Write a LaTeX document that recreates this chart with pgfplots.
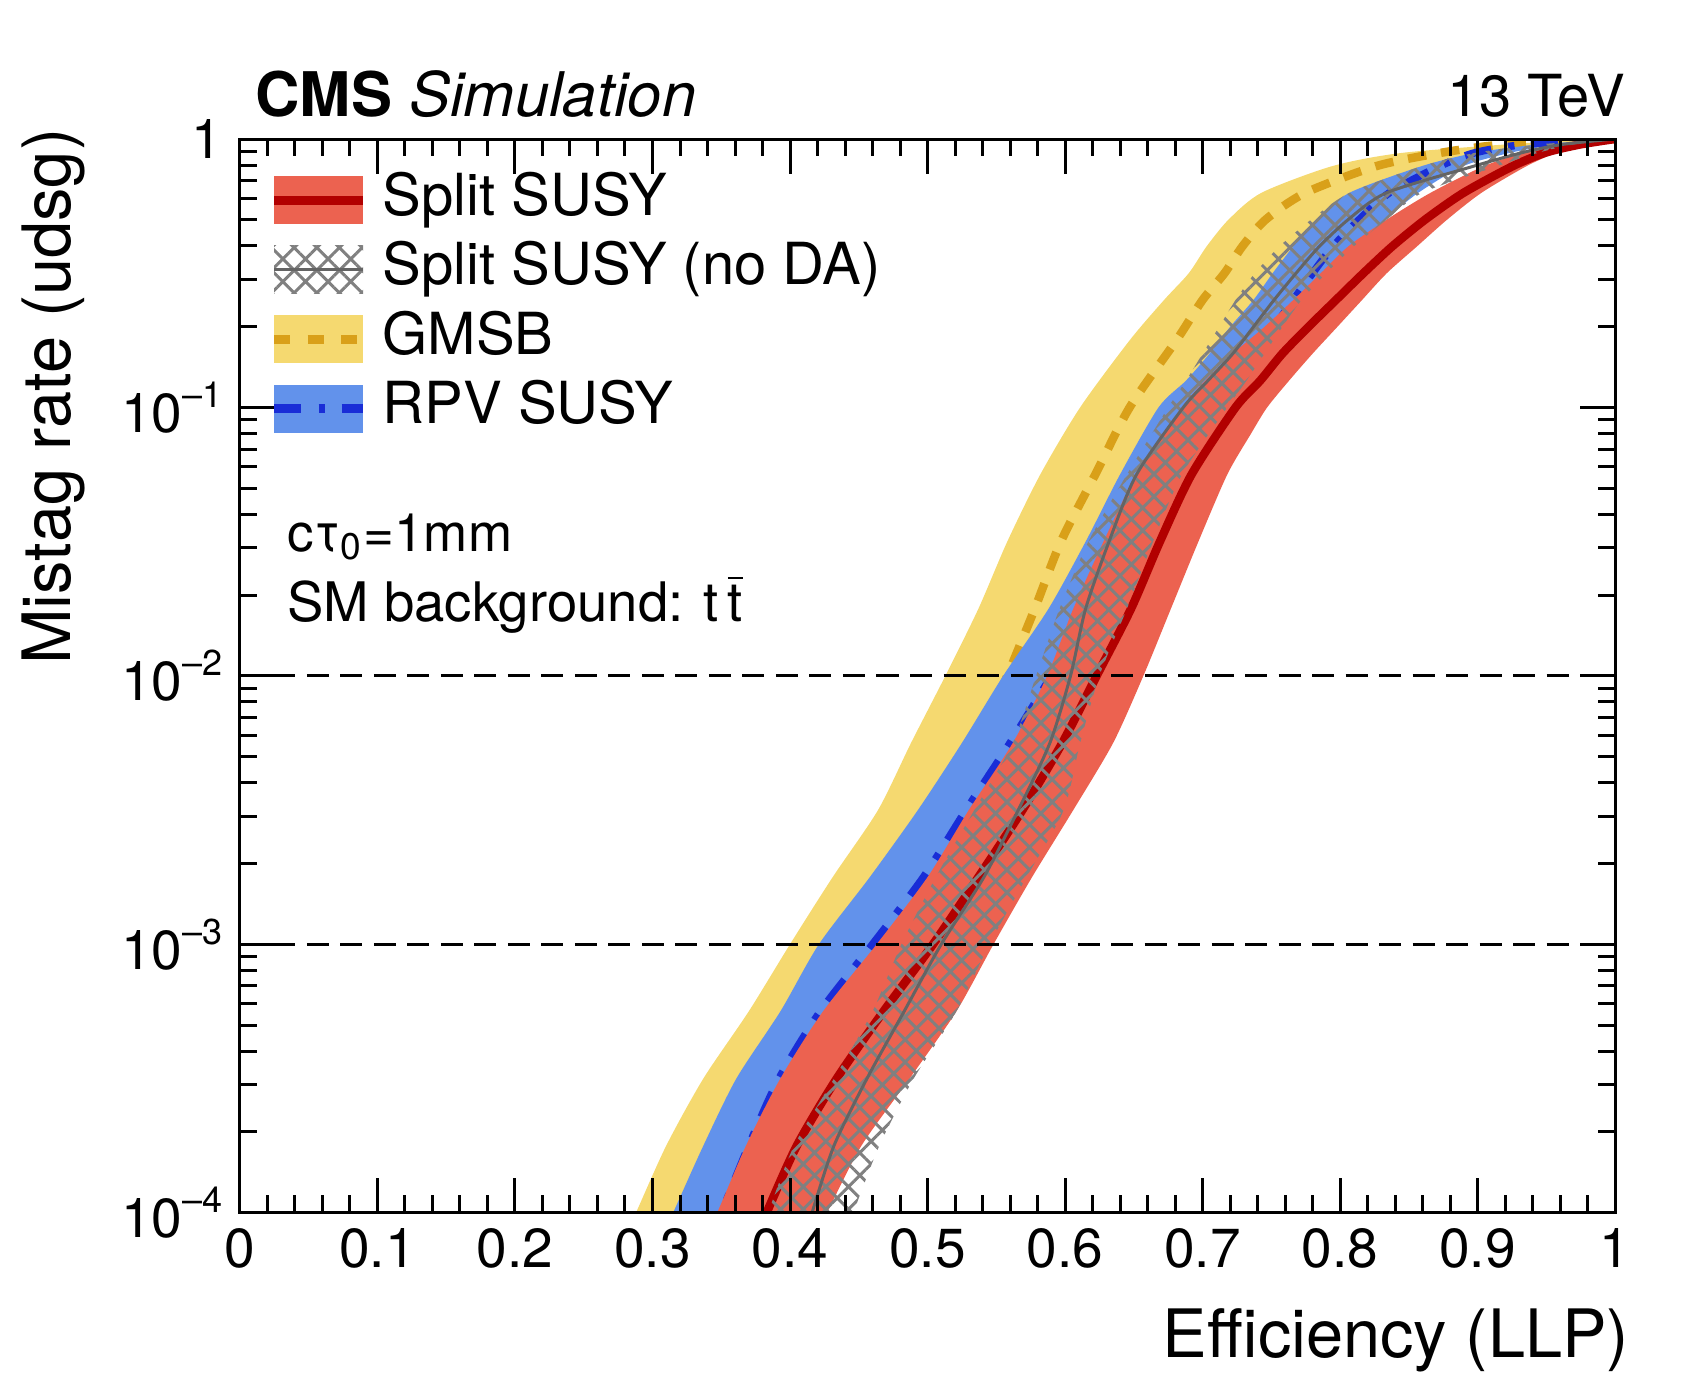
\documentclass[border=0pt]{standalone}
\usepackage{fontspec}
\setmainfont{TeX Gyre Heros}
\usepackage{pgfplots}
\pgfplotsset{compat=1.18}
\usepackage{pgfplotstable}
\usetikzlibrary{patterns.meta}

\definecolor{redband}{RGB}{236,98,80}
\definecolor{darkredline}{RGB}{178,0,0}
\definecolor{yellowband}{RGB}{245,217,112}
\definecolor{goldline}{RGB}{217,160,25}
\definecolor{blueband}{RGB}{98,146,235}
\definecolor{blueline}{RGB}{25,45,215}
\definecolor{hatchgray}{RGB}{128,128,128}
\definecolor{grayline}{RGB}{100,100,100}

\newcommand\sups[1]{\raisebox{5pt}{\fontsize{7.2}{8}\selectfont #1}}

% GMSB band (yellow): left edge bottom->top, right edge top->bottom
\pgfplotstableread{
x y
0.279 7.943e-5
0.288 1e-4
0.310 1.778e-4
0.337 3.162e-4
0.370 5.623e-4
0.400 1e-3
0.431 1.778e-3
0.464 3.162e-3
0.488 5.623e-3
0.513 1e-2
0.537 1.778e-2
0.558 3.162e-2
0.582 5.623e-2
0.611 0.1
0.647 0.1778
0.672 0.2512
0.690 0.3162
0.703 0.3981
0.719 0.5012
0.743 0.6310
0.795 0.7943
0.848 0.8913
0.950 0.9772
1.000 1.0
0.962 0.9550
0.915 0.8913
0.868 0.7943
0.815 0.6310
0.790 0.5012
0.772 0.3981
0.757 0.3162
0.744 0.2512
0.730 0.1995
0.717 0.1585
0.703 0.1259
0.686 0.1
0.652 5.623e-2
0.627 3.162e-2
0.600 1.778e-2
0.567 1e-2
0.535 5.623e-3
0.503 3.162e-3
0.468 1.778e-3
0.432 1e-3
0.405 5.623e-4
0.373 3.162e-4
0.349 1.778e-4
0.327 1e-4
0.318 7.943e-5
}\gmsbband

\pgfplotstableread{
x y
0.318 7.943e-5
0.327 1e-4
0.349 1.778e-4
0.373 3.162e-4
0.405 5.623e-4
0.432 1e-3
0.470 1.778e-3
0.505 3.162e-3
0.537 5.623e-3
0.558 1e-2
0.578 1.778e-2
0.597 3.162e-2
0.622 5.623e-2
0.647 0.1
0.681 0.1778
0.700 0.2512
0.716 0.3162
0.729 0.3981
0.746 0.5012
0.775 0.6310
0.827 0.7943
0.875 0.8913
0.920 0.9550
1.000 1.0
}\gmsbline

% RPV band (blue)
\pgfplotstableread{
x y
0.306 7.943e-5
0.315 1e-4
0.337 1.778e-4
0.361 3.162e-4
0.393 5.623e-4
0.421 1e-3
0.458 1.778e-3
0.493 3.162e-3
0.525 5.623e-3
0.555 1e-2
0.588 1.778e-2
0.615 3.162e-2
0.640 5.623e-2
0.668 0.1
0.688 0.1259
0.705 0.1585
0.720 0.1995
0.737 0.2512
0.751 0.3162
0.766 0.3981
0.783 0.5012
0.807 0.6310
0.860 0.7943
0.900 0.8913
0.945 0.9550
1.000 1.0
0.958 0.9550
0.925 0.8913
0.890 0.7943
0.857 0.6310
0.833 0.5012
0.812 0.3981
0.795 0.3162
0.778 0.2512
0.765 0.1995
0.752 0.1585
0.738 0.1259
0.725 0.1
0.688 5.623e-2
0.660 3.162e-2
0.635 1.778e-2
0.605 1e-2
0.578 5.623e-3
0.548 3.162e-3
0.518 1.778e-3
0.485 1e-3
0.450 5.623e-4
0.420 3.162e-4
0.390 1.778e-4
0.365 1e-4
0.355 7.943e-5
}\rpvband

\pgfplotstableread{
x y
0.340 7.943e-5
0.350 1e-4
0.370 1.778e-4
0.392 3.162e-4
0.422 5.623e-4
0.460 1e-3
0.497 1.778e-3
0.528 3.162e-3
0.560 5.623e-3
0.590 1e-2
0.618 1.778e-2
0.643 3.162e-2
0.672 5.623e-2
0.708 0.1
0.722 0.1259
0.737 0.1585
0.752 0.1995
0.766 0.2512
0.780 0.3162
0.795 0.3981
0.814 0.5012
0.836 0.6310
0.873 0.7943
0.899 0.8913
0.935 0.9550
1.000 1.0
}\rpvline

% Split SUSY band (red)
\pgfplotstableread{
x y
0.336 7.943e-5
0.347 1e-4
0.368 1.778e-4
0.393 3.162e-4
0.424 5.623e-4
0.463 1e-3
0.500 1.778e-3
0.530 3.162e-3
0.562 5.623e-3
0.587 1e-2
0.606 1.778e-2
0.628 3.162e-2
0.652 5.623e-2
0.685 0.1
0.702 0.1259
0.722 0.1585
0.745 0.1995
0.766 0.2512
0.786 0.3162
0.806 0.3981
0.834 0.5012
0.866 0.6310
0.905 0.7943
0.935 0.8913
0.965 0.9550
1.000 1.0
0.978 0.9550
0.958 0.8913
0.936 0.7943
0.903 0.6310
0.878 0.5012
0.856 0.3981
0.834 0.3162
0.816 0.2512
0.798 0.1995
0.780 0.1585
0.763 0.1259
0.747 0.1
0.735 7.943e-2
0.718 5.623e-2
0.697 3.162e-2
0.677 1.778e-2
0.657 1e-2
0.635 5.623e-3
0.606 3.162e-3
0.576 1.778e-3
0.548 1e-3
0.521 5.623e-4
0.487 3.162e-4
0.452 1.778e-4
0.427 1e-4
0.418 7.943e-5
}\splitband

\pgfplotstableread{
x y
0.375 7.943e-5
0.383 1e-4
0.405 1.778e-4
0.434 3.162e-4
0.468 5.623e-4
0.504 1e-3
0.537 1.778e-3
0.569 3.162e-3
0.598 5.623e-3
0.623 1e-2
0.648 1.778e-2
0.669 3.162e-2
0.692 5.623e-2
0.724 0.1
0.742 0.1259
0.758 0.1585
0.777 0.1995
0.797 0.2512
0.817 0.3162
0.838 0.3981
0.862 0.5012
0.890 0.6310
0.926 0.7943
0.950 0.8913
0.975 0.9550
1.000 1.0
}\splitline

% Split SUSY (no DA) band (hatched)
\pgfplotstableread{
x y
0.377 7.943e-5
0.384 1e-4
0.403 1.778e-4
0.432 3.162e-4
0.460 5.623e-4
0.481 1e-3
0.506 1.778e-3
0.534 3.162e-3
0.562 5.623e-3
0.579 1e-2
0.596 1.778e-2
0.617 3.162e-2
0.645 5.623e-2
0.675 0.1
0.688 0.1259
0.700 0.1585
0.712 0.1995
0.724 0.2512
0.738 0.3162
0.756 0.3981
0.779 0.5012
0.807 0.6310
0.860 0.7943
0.900 0.8913
0.945 0.9550
1.000 1.0
0.970 0.9550
0.945 0.8913
0.915 0.7943
0.860 0.6310
0.834 0.5012
0.810 0.3981
0.790 0.3162
0.772 0.2512
0.758 0.1995
0.745 0.1585
0.732 0.1259
0.718 0.1
0.685 5.623e-2
0.664 3.162e-2
0.645 1.778e-2
0.625 1e-2
0.611 5.623e-3
0.599 3.162e-3
0.572 1.778e-3
0.545 1e-3
0.521 5.623e-4
0.490 3.162e-4
0.465 1.778e-4
0.446 1e-4
0.438 7.943e-5
}\nodaband

\pgfplotstableread{
x y
0.410 7.943e-5
0.416 1e-4
0.432 1.778e-4
0.456 3.162e-4
0.483 5.623e-4
0.510 1e-3
0.541 1.778e-3
0.566 3.162e-3
0.589 5.623e-3
0.604 1e-2
0.615 1.778e-2
0.632 3.162e-2
0.652 5.623e-2
0.686 0.1
0.704 0.1259
0.722 0.1585
0.737 0.1995
0.752 0.2512
0.768 0.3162
0.785 0.3981
0.806 0.5012
0.834 0.6310
0.898 0.7943
0.933 0.8913
0.962 0.9550
1.000 1.0
}\nodaline

\begin{document}
\begin{tikzpicture}
\useasboundingbox (-48pt,-33.26pt) rectangle (292.2pt,242.54pt);
\begin{axis}[
  at={(0pt,0pt)}, anchor=south west,
  scale only axis, width=275pt, height=214.74pt,
  xmin=0, xmax=1, ymin=1e-4, ymax=1, ymode=log,
  axis on top,
  xtick={0,0.1,0.2,0.3,0.4,0.5,0.6,0.7,0.8,0.9,1},
  xticklabels={0,0.1,0.2,0.3,0.4,0.5,0.6,0.7,0.8,0.9,1},
  minor xtick={0.02,0.04,0.06,0.08,0.12,0.14,0.16,0.18,0.22,0.24,0.26,0.28,0.32,0.34,0.36,0.38,0.42,0.44,0.46,0.48,0.52,0.54,0.56,0.58,0.62,0.64,0.66,0.68,0.72,0.74,0.76,0.78,0.82,0.84,0.86,0.88,0.92,0.94,0.96,0.98},
  ytick={1e-4,1e-3,1e-2,1e-1,1},
  yticklabels={10\sups{\textendash4},10\sups{\textendash3},10\sups{\textendash2},10\sups{\textendash1},1},
  minor ytick={2e-4,3e-4,4e-4,5e-4,6e-4,7e-4,8e-4,9e-4,2e-3,3e-3,4e-3,5e-3,6e-3,7e-3,8e-3,9e-3,2e-2,3e-2,4e-2,5e-2,6e-2,7e-2,8e-2,9e-2,0.2,0.3,0.4,0.5,0.6,0.7,0.8,0.9},
  xtick pos=both, ytick pos=both,
  xticklabel pos=lower, yticklabel pos=left,
  tick align=inside,
  major tick length=7pt, minor tick length=3.5pt,
  tick style={black, line width=0.6pt},
  axis line style={black, line width=0.6pt},
  tick label style={font=\fontsize{11}{13}\selectfont},
  xticklabel style={anchor=base, yshift=-11pt},
  xlabel={Efficiency (LLP)},
  ylabel={Mistag rate (udsg)},
  label style={font=\fontsize{13.35}{16}\selectfont, inner sep=0pt},
  x label style={at={(axis description cs:1.0109,-0.1344)}, anchor=base east},
  y label style={at={(axis description cs:-0.1236,1.0105)}, anchor=base east},
  legend cell align=left,
  legend style={at={(axis description cs:0.0216,0.96787)}, anchor=north west,
    draw=none, fill=none, inner sep=0pt, outer sep=0pt, row sep=3.2pt,
    font=\fontsize{11.6}{13.9}\selectfont,
    nodes={inner sep=0pt, text height=8.3pt, text depth=2.4pt},
    /tikz/every odd column/.style={column sep=3.0pt}},
  every axis plot/.append style={smooth, tension=0.45},
]
% legend entries
\addlegendimage{legend image code/.code={
  \path[fill=redband, draw=none] (0pt,-4.8pt) rectangle (17.8pt,4.8pt);
  \draw[darkredline, line width=1.7pt] (0pt,0pt) -- (17.8pt,0pt);}}
\addlegendentry{Split SUSY}
\addlegendimage{legend image code/.code={
  \path[draw=none, pattern={Hatch[angle=45,distance=3.2pt,line width=0.6pt]}, pattern color=hatchgray] (0pt,-4.8pt) rectangle (17.8pt,4.8pt);
  \draw[grayline, line width=0.6pt] (0pt,0pt) -- (17.8pt,0pt);}}
\addlegendentry{Split SUSY (no DA)}
\addlegendimage{legend image code/.code={
  \path[fill=yellowband, draw=none] (0pt,-4.8pt) rectangle (17.8pt,4.8pt);
  \draw[goldline, line width=1.7pt, dash pattern=on 3.2pt off 3.5pt] (0pt,0pt) -- (17.8pt,0pt);}}
\addlegendentry{GMSB}
\addlegendimage{legend image code/.code={
  \path[fill=blueband, draw=none] (0pt,-4.8pt) rectangle (17.8pt,4.8pt);
  \draw[blueline, line width=1.8pt, dash pattern=on 5.4pt off 3.5pt on 1.3pt off 3.3pt] (0pt,0pt) -- (17.8pt,0pt);}}
\addlegendentry{RPV SUSY}

% data
\addplot[draw=none, fill=yellowband, mark=none, forget plot] table {\gmsbband};
\addplot[goldline, line width=1.7pt, dash pattern=on 3.7pt off 3pt, mark=none, forget plot] table {\gmsbline};
\addplot[draw=none, fill=blueband, mark=none, forget plot] table {\rpvband};
\addplot[blueline, line width=1.5pt, dash pattern=on 5.4pt off 3.4pt on 1.3pt off 3.3pt, mark=none, forget plot] table {\rpvline};
\addplot[draw=none, fill=redband, mark=none, forget plot] table {\splitband};
\addplot[darkredline, line width=1.7pt, mark=none, forget plot] table {\splitline};
\addplot[draw=none, pattern={Hatch[angle=45,distance=3.2pt,line width=0.6pt]}, pattern color=hatchgray, mark=none, forget plot] table {\nodaband};
\addplot[grayline, line width=0.6pt, mark=none, forget plot] table {\nodaline};
% reference lines
\addplot[black, line width=0.6pt, dash pattern=on 4.4pt off 2.3pt, mark=none, sharp plot, forget plot] coordinates {(0,1e-2) (1,1e-2)};
\addplot[black, line width=0.6pt, dash pattern=on 4.4pt off 2.3pt, mark=none, sharp plot, forget plot] coordinates {(0,1e-3) (1,1e-3)};
\end{axis}
\node[anchor=base west, inner sep=0pt] at (2.9pt,219.2pt) {\fontsize{12.3}{14.5}\selectfont\textbf{CMS} \textit{Simulation}};
\node[anchor=base east, inner sep=0pt] at (277.3pt,219.2pt) {\fontsize{11.6}{13.5}\selectfont 13 TeV};
\node[anchor=base west, inner sep=0pt] at (9.3pt,132.2pt) {\fontsize{10.6}{12.7}\selectfont cτ\textsubscript{0}=1mm};
\node[anchor=base west, inner sep=0pt] at (9.3pt,118.3pt) {\fontsize{10.9}{13}\selectfont SM background: t\,$\overline{\mbox{t}}$};
\end{tikzpicture}
\end{document}
